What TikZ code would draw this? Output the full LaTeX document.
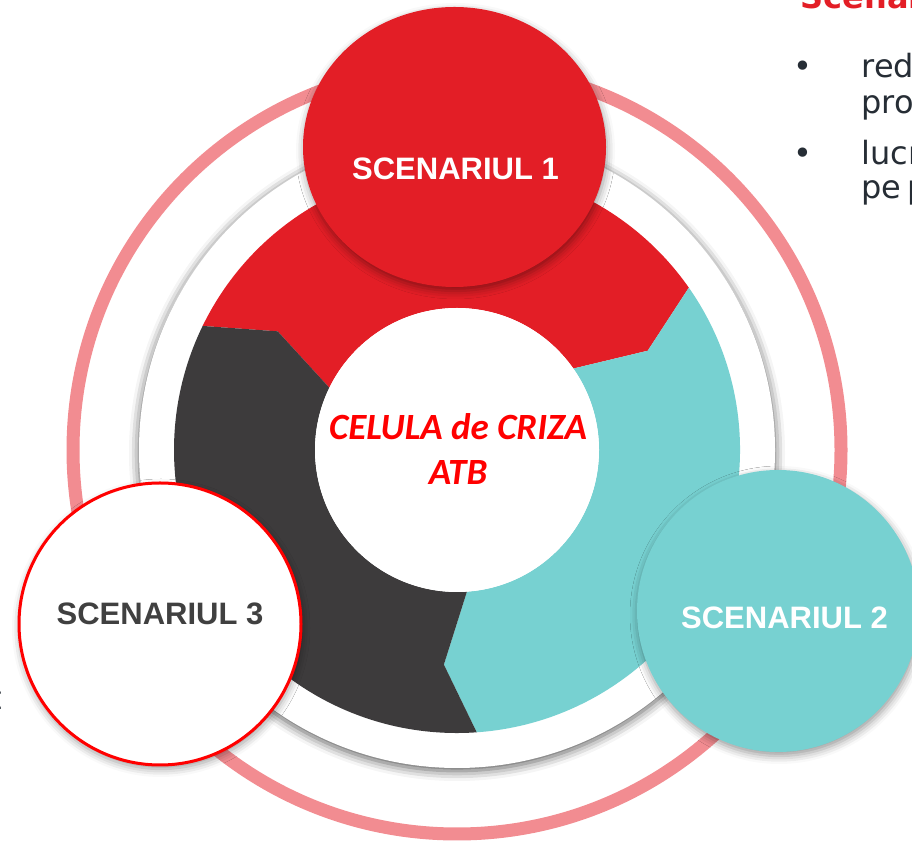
\documentclass[tikz,border=0pt]{standalone}
\usepackage{fontspec}
\setmainfont{Liberation Sans}
\newfontfamily\carlito{Carlito}
\newfontfamily\dejavu{DejaVu Sans}
\usetikzlibrary{shapes.geometric, shadows.blur}

\definecolor{segred}{HTML}{E31E26}
\definecolor{segteal}{HTML}{77D1D1}
\definecolor{segdark}{HTML}{3D3B3C}
\definecolor{ringpink}{HTML}{F28C91}
\definecolor{txtdark}{HTML}{262D35}
\definecolor{scdark}{HTML}{404040}

\tikzset{
  disc/.style={circle, inner sep=0pt,
    blur shadow={shadow xshift=1pt, shadow yshift=-4pt, shadow blur radius=8pt, shadow opacity=40}},
  scentxt/.style={font=\bfseries\fontsize{31}{37}\selectfont},
  celtxt/.style={align=center, text=red, font=\carlito\bfseries\itshape\fontsize{37}{45}\selectfont},
  sidetxt/.style={anchor=base west, text=txtdark, font=\dejavu\fontsize{32}{36}\selectfont}
}

\begin{document}
\begin{tikzpicture}[x=1pt, y=1pt]
  \useasboundingbox (0,0) rectangle (912,845);
  \clip (0,0) rectangle (912,845);
  \coordinate (c) at (457,395);

  % outer ring and white disc
  \draw[ringpink, line width=13pt] (c) circle[radius=384];
  \fill[white, blur shadow={shadow xshift=0pt, shadow yshift=-3pt, shadow blur radius=10pt, shadow opacity=65}]
    (c) circle[radius=318];

  % arrow segments
  \begin{scope}[shift={(457,395)}]
    \foreach \a/\b/\col in {154/35/segred, 35/-86/segteal, -86/-206/segdark}
      \fill[\col] (\a:283) arc[start angle=\a, end angle=\b, radius=283]
        -- ({\b-7.5}:215) -- (\b:142) arc[start angle=\b, end angle=\a, radius=142]
        -- ({\a-7.5}:215) -- cycle;
  \end{scope}

  % scenario circles
  \node[disc, ellipse, fill=segred, minimum width=303pt, minimum height=280pt] (sc1) at (454.5,698) {};
  \node[disc, fill=segteal, minimum size=282pt] (sc2) at (778,234) {};
  \node[disc, fill=white, draw=red, line width=3pt, minimum size=282pt] (sc3) at (160,221) {};

  \node[scentxt, text=white] (sc1txt) at (455.5,676.5) {SCENARIUL 1};
  \node[scentxt, text=white] (sc2txt) at (784.5,227.5) {SCENARIUL 2};
  \node[scentxt, text=scdark] (sc3txt) at (160,231) {SCENARIUL 3};

  % centre
  \node[circle, fill=white, inner sep=0pt, minimum size=284pt] (celula) at (c) {};
  \node[celtxt] (celulatxt) at (458,396) {CELULA de CRIZA\\ATB};

  % cut text at the edges
  \node[sidetxt, text=segred, font=\dejavu\bfseries\fontsize{32}{36}\selectfont] (scen) at (797,836) {Scenar};
  \node[sidetxt] (b1) at (790,767) {•};
  \node[sidetxt] (l1) at (858,767) {red};
  \node[sidetxt] (l2) at (858,731) {pro};
  \node[sidetxt] (b2) at (790,680) {•};
  \node[sidetxt] (l3) at (858,680) {lucr};
  \node[sidetxt] (l4) at (858,646) {pe\hspace{0.2em}p};
  \node[sidetxt, anchor=base east] (lt) at (6,135) {t};
\end{tikzpicture}
\end{document}
